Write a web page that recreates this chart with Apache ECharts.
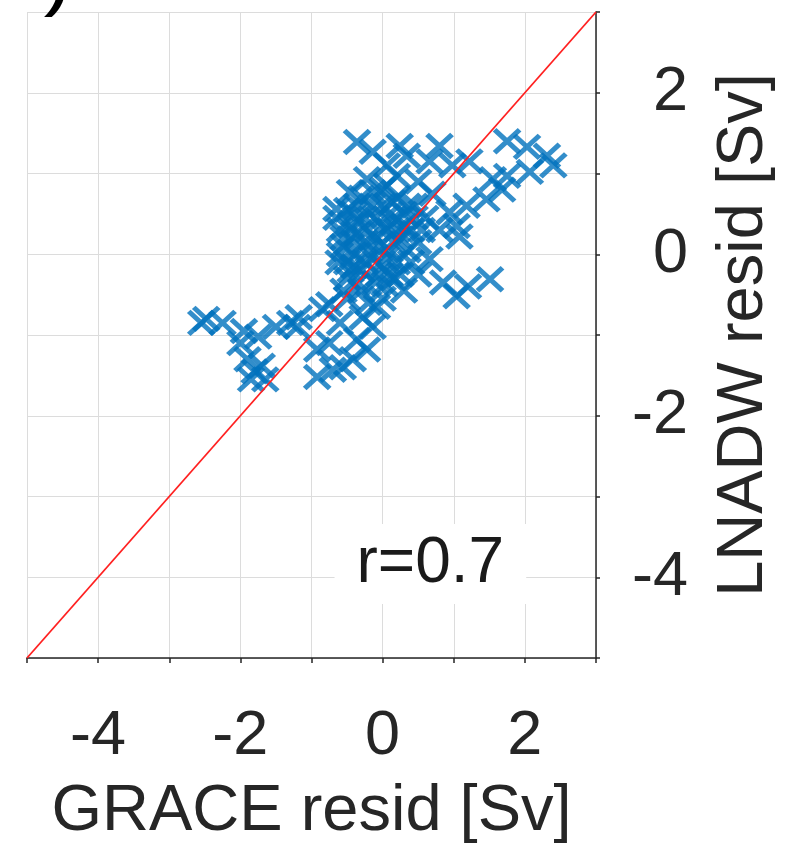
<!DOCTYPE html>
<html>
<head>
<meta charset="utf-8">
<script src="https://cdn.jsdelivr.net/npm/echarts@6/dist/echarts.min.js"></script>
<style>
html,body{margin:0;padding:0;background:#fff;}
#c{width:785px;height:851px;}
</style>
</head>
<body>
<div id="c"></div>
<script>
// GRACE residuals [Sv] (x) and LNADW residuals [Sv] (y)
const graceResid = [
  // left tail
  -2.55,-2.48,-2.25,-1.95,-1.75,-1.5,-1.3,-1.2,-1.18,-0.85,-1.9,-1.8,-1.65,-1.85,-1.7,-2.0,
  // lower middle
  -0.92,-0.7,-0.56,-0.42,-0.22,-0.36,-0.75,-0.92,-0.14,-0.28,-0.08,-0.6,-0.75,-0.5,0.03,
  // right lower
  1.51,1.2,1.04,0.85,0.66,0.5,0.3,0.15,0.4,
  // upper right
  1.75,2.03,2.31,2.4,2.07,1.75,1.55,1.68,1.46,1.18,0.94,1.04,1.08,0.8,0.98,0.66,1.22,
  // upper middle
  -0.36,-0.14,0.24,0.34,0.06,-0.22,-0.46,-0.14,0.06,0.2,-0.65,-0.36,0.14,0.5,0.7,0.45,0.6,0.8,
  // core
  -0.6,-0.55,-0.62,-0.5,-0.45,-0.4,-0.35,-0.3,-0.25,-0.2,-0.15,-0.1,-0.05,0.0,0.05,0.1,0.15,0.2,0.25,0.3,
  0.35,0.4,-0.65,-0.5,-0.3,0.0,0.2,-0.55,-0.3,-0.1,0.1,-0.2,0.0,0.25,0.5,0.55,-0.4,-0.45,-0.15,0.1,
  -0.55,-0.5,-0.45,-0.35,-0.25,-0.2,-0.1,0.0,0.05,0.15,0.3,0.35,-0.6,-0.4,-0.25,0.0,0.45,-0.05,0.2,-0.35
];
const lnadwResid = [
  -0.85,-0.8,-0.85,-0.95,-1.02,-0.9,-0.85,-0.9,-0.78,-0.68,-1.3,-1.45,-1.55,-1.55,-1.38,-1.1,
  -1.52,-1.43,-1.4,-1.3,-1.18,-1.06,-1.1,-1.18,-0.9,-0.78,-0.65,-0.85,-0.62,-0.55,-0.37,
  -0.31,-0.4,-0.52,-0.35,-0.06,-0.25,-0.45,-0.3,-0.1,
  1.4,1.33,1.22,1.1,1.02,0.97,0.93,0.8,0.68,0.6,0.52,0.35,0.22,1.34,1.1,1.15,1.15,
  1.39,1.27,1.34,1.22,1.1,0.93,0.77,0.77,0.85,0.97,0.56,0.6,0.64,0.9,0.75,0.6,0.45,0.3,
  0.3,0.1,-0.1,-0.3,0.2,0.0,0.4,-0.2,0.15,0.3,-0.05,0.45,0.1,-0.15,0.3,0.05,0.4,-0.1,0.2,0.5,
  0.05,0.3,0.45,0.55,0.7,0.6,0.7,-0.45,-0.45,-0.35,-0.25,-0.6,-0.55,-0.25,0.15,0.3,-0.15,0.35,0.6,0.5,
  0.2,-0.1,-0.2,0.25,-0.1,0.05,0.2,0.35,-0.05,0.15,0.35,0.6,0.0,0.5,0.45,0.8,0.45,-0.25,0.3,-0.35
];
const oneToOne = [[-5,-5],[3,3]];
const xTicks = [-4,-2,0,2];
const yTicks = [-4,-2,0,2];
const corrText = 'r=0.7';
const corrPos = [0.73,-4.06];

const points = graceResid.map((x,i)=>[x, lnadwResid[i]]);
const chart = echarts.init(document.getElementById('c'), null, {renderer:'canvas'});
const FONT = '"Liberation Sans", Arial, Helvetica, sans-serif';
const option = {
  animation:false,
  backgroundColor:'#ffffff',
  grid:{left:27,right:189,top:12,bottom:193,containLabel:false},
  xAxis:{
    type:'value',min:-5,max:3,interval:1,
    name:'GRACE resid [Sv]',nameLocation:'middle',nameGap:122,
    nameTextStyle:{fontFamily:FONT,fontSize:65,color:'#262626'},
    axisLine:{show:true,onZero:false,lineStyle:{color:'#262626',width:1.5}},
    axisTick:{show:true,inside:false,length:5,lineStyle:{color:'#262626',width:1.5}},
    axisLabel:{fontFamily:FONT,fontSize:63,color:'#262626',margin:47,
      formatter:v=>xTicks.includes(v)?String(v):''},
    splitLine:{show:true,lineStyle:{color:'#dcdcdc',width:1}}
  },
  yAxis:{
    type:'value',min:-5,max:3,interval:1,position:'right',
    name:'LNADW resid [Sv]',nameLocation:'middle',nameGap:116,nameRotate:90,
    nameTextStyle:{fontFamily:FONT,fontSize:65,color:'#262626'},
    axisLine:{show:true,onZero:false,lineStyle:{color:'#262626',width:1.5}},
    axisTick:{show:true,inside:false,length:4,lineStyle:{color:'#262626',width:1.5}},
    axisLabel:{fontFamily:FONT,fontSize:63,color:'#262626',margin:92,align:'right',
      formatter:v=>yTicks.includes(v)?String(v):''},
    splitLine:{show:true,lineStyle:{color:'#dcdcdc',width:1}}
  },
  series:[
    {
      type:'scatter',data:points,
      symbol:'path://M0,0L10,10M10,0L0,10',
      symbolSize:[25,23],
      itemStyle:{color:'rgba(0,0,0,0)',borderColor:'#0072BD',borderWidth:5},
      z:2
    },
    {
      type:'line',data:oneToOne,showSymbol:false,symbol:'none',
      lineStyle:{color:'#ff2020',width:1.8},z:3
    }
  ]
};
chart.setOption(option);
const p = chart.convertToPixel({gridIndex:0}, corrPos);
chart.setOption({
  graphic:[
    {type:'text',left:p[0]-100,top:p[1]-58,z:10,
      style:{text:corrText,font:'64px '+FONT,fill:'#1a1a1a',
        backgroundColor:'#ffffff',padding:[8,22,8,22]}},
    {type:'text',x:49,y:-38,z:10,
      style:{text:')',font:'bold italic 56px '+FONT,fill:'#000',textBaseline:'alphabetic'}}
  ]
});
</script>
</body>
</html>
